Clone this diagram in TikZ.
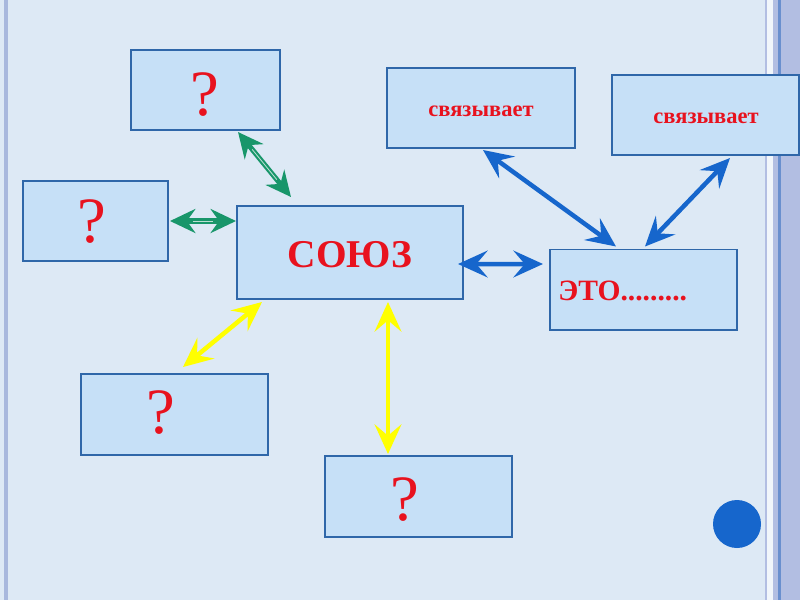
\documentclass[tikz,border=0pt]{standalone}
\usepackage{fontspec}
\setmainfont{Liberation Serif}
\usetikzlibrary{arrows.meta,calc}
\definecolor{bgcol}{RGB}{221,233,245}
\definecolor{boxfill}{RGB}{198,224,247}
\definecolor{boxline}{RGB}{47,103,169}
\definecolor{txtred}{RGB}{232,18,30}
\definecolor{gcol}{RGB}{24,150,106}
\definecolor{bcol}{RGB}{22,102,204}
\definecolor{ycol}{RGB}{255,255,0}
\definecolor{lav}{RGB}{178,190,226}
\definecolor{lavline}{RGB}{168,184,221}
\definecolor{dkline}{RGB}{105,143,206}
\begin{document}
\begin{tikzpicture}[x=0.025cm,y=-0.025cm,
  box/.style={draw=boxline,line width=1.4pt,fill=boxfill,inner sep=0pt,minimum height=2cm},
  qmark/.style={text=txtred,inner sep=0pt,font=\fontsize{46}{48}\selectfont},
  svtext/.style={text=txtred,inner sep=0pt,font=\bfseries\fontsize{16}{18}\selectfont},
  link/.style={{Stealth[length=21pt,width=19pt,inset=8pt]}-{Stealth[length=21pt,width=19pt,inset=8pt]},line width=3.2pt},
  glink/.style={{Stealth[length=18pt,width=17pt,inset=6pt]}-{Stealth[length=18pt,width=17pt,inset=6pt]},line width=3.6pt,draw=gcol},
  gcore/.style={draw=gcol!30,line width=0.6pt,shorten <=16pt,shorten >=16pt}
]
\useasboundingbox (0,0) rectangle (800,600);
% background and frame stripes
\fill[bgcol] (0,0) rectangle (800,600);
\fill[lavline] (3.5,0) rectangle (8,600);
\fill[lav] (765,0) rectangle (767,600);
\fill[white!60!bgcol] (767,0) rectangle (773,600);
\fill[lav] (773,0) rectangle (800,600);
\fill[dkline] (778,0) rectangle (781,600);

% boxes
\node[box,minimum width=3.725cm] (topq) at (205.5,90) {};
\node[box,minimum width=3.625cm] (leftq) at (95.5,221) {};
\node[box,minimum width=5.65cm,minimum height=2.325cm] (soyuz) at (350,252.5) {};
\node[box,minimum width=4.7cm] (sv1) at (481,108) {};
\node[box,minimum width=4.675cm] (sv2) at (705.5,115) {};
\node[box,minimum width=4.675cm] (eto) at (643.5,289.5) {};
\node[box,minimum width=4.675cm,minimum height=2.025cm] (blq) at (174.5,414.5) {};
\node[box,minimum width=4.675cm,minimum height=2.025cm] (bq) at (418.5,496.5) {};

% texts
\node[qmark] (t1) at (205,95) {?};
\node[qmark] (t2) at (92,222) {?};
\node[qmark] (t3) at (161,413) {?};
\node[qmark] (t4) at (405,500) {?};
\node[text=txtred,inner sep=0pt,font=\bfseries\fontsize{28}{30}\selectfont] (t5) at (350,255) {СОЮЗ};
\node[svtext] (t6) at (481,111) {связывает};
\node[svtext] (t7) at (706,118) {связывает};
\node[text=txtred,inner sep=0pt,anchor=west,font=\bfseries\fontsize{21}{23}\selectfont] (t8) at (558,291) {ЭТО.........};

% green connectors
\draw[glink] ($(topq.south)+(32.5,1)$) -- ($(soyuz.north)+(-59,-8)$);
\draw[gcore] ($(topq.south)+(32.5,1)$) -- ($(soyuz.north)+(-59,-8)$);
\draw[glink] ($(leftq.east)+(1,0)$) -- (leftq.east -| soyuz.west);
\draw[gcore] ($(leftq.east)+(1,0)$) -- (leftq.east -| soyuz.west);

% blue connectors
\draw[link,draw=bcol] ($(soyuz.east)+(-6,11.5)$) -- ($(eto.west)+(-6,-25.5)$);
\draw[link,draw=bcol] ($(sv1.south)+(2,1)$) -- ($(eto.north)+(-27.5,-2)$);
\draw[link,draw=bcol] ($(sv2.south)+(24.5,2)$) -- ($(eto.north)+(1.5,-2)$);

% yellow connectors
\draw[link,draw=ycol] ($(soyuz.south west)+(26,2)$) -- ($(blq.north)+(8.5,-6)$);
\draw[link,draw=ycol] ($(soyuz.south)+(38,2)$) -- ($(bq.north)+(-30.5,-1)$);

% round marker
\fill[bcol] (737,524) circle (0.6cm);
\end{tikzpicture}
\end{document}
